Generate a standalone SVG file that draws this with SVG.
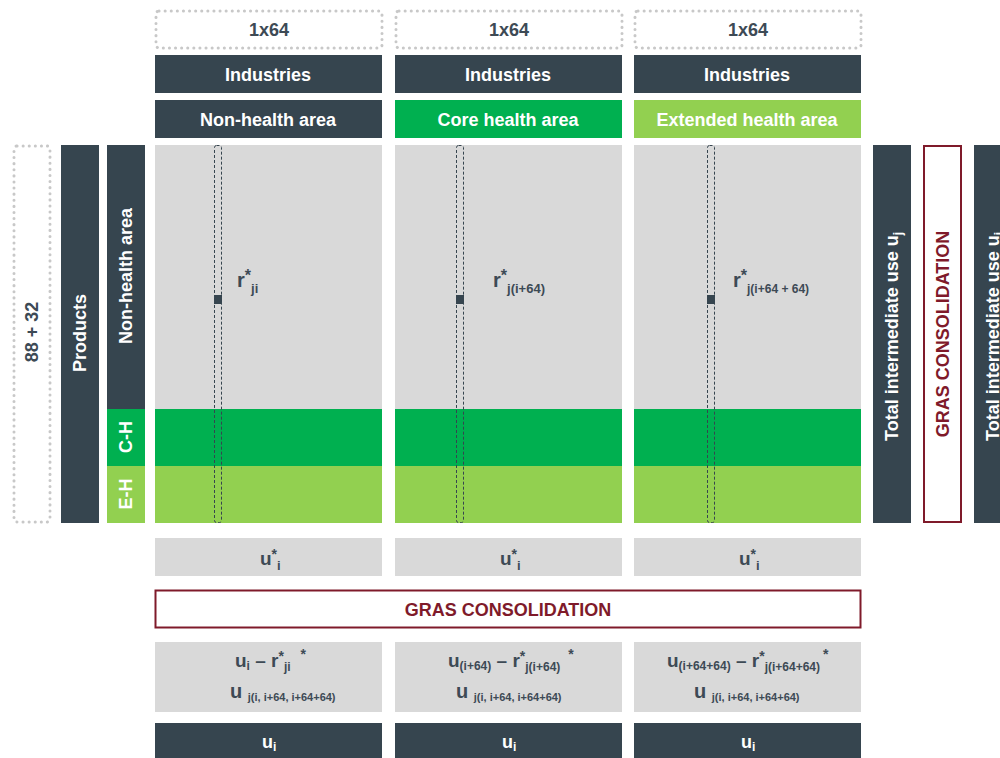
<svg xmlns="http://www.w3.org/2000/svg" width="1000" height="758" viewBox="0 0 1000 758">
<style>
text{font-family:"Liberation Sans",Arial,sans-serif;font-weight:bold}
.dk{fill:#36454f}
.gr{fill:#d9d9d9}
.g1{fill:#00b050}
.g2{fill:#92d050}
.dot{fill:none;stroke:#c8c8c8;stroke-width:3;stroke-dasharray:0.1 6;stroke-linecap:round}
.w{fill:#ffffff;font-size:18px;text-anchor:middle}
.t{fill:#3d4a55;font-size:18px;text-anchor:middle}
.red{fill:#fff;stroke:#7f1a2a;stroke-width:2}
.rt{fill:#7f1a2a;font-size:18px;text-anchor:middle}
.strip{fill:none;stroke:#36454f;stroke-width:1;stroke-dasharray:3 2}
.m{fill:#3d4a55}
</style>
<g id="top-labels">
<rect class="dot" x="156" y="11" width="226" height="37" rx="3"/>
<text class="t" x="269" y="36">1x64</text>
<rect class="dot" x="396" y="11" width="226" height="37" rx="3"/>
<text class="t" x="509" y="36">1x64</text>
<rect class="dot" x="635" y="11" width="226" height="37" rx="3"/>
<text class="t" x="748" y="36">1x64</text>
</g>
<g id="industries">
<rect class="dk" x="155" y="55" width="227" height="38"/>
<text class="w" x="268" y="81">Industries</text>
<rect class="dk" x="395" y="55" width="227" height="38"/>
<text class="w" x="508" y="81">Industries</text>
<rect class="dk" x="634" y="55" width="227" height="38"/>
<text class="w" x="747" y="81">Industries</text>
</g>
<g id="area-headers">
<rect class="dk" x="155" y="100" width="227" height="38"/>
<text class="w" x="268" y="126">Non-health area</text>
<rect class="g1" x="395" y="100" width="227" height="38"/>
<text class="w" x="508" y="126">Core health area</text>
<rect class="g2" x="634" y="100" width="227" height="38"/>
<text class="w" x="747" y="126">Extended health area</text>
</g>
<g id="left-labels">
<rect class="dot" x="14" y="146" width="36" height="376" rx="3"/>
<text class="t" transform="translate(38,332) rotate(-90)">88 + 32</text>
<rect class="dk" x="61" y="145" width="38" height="378"/>
<text class="w" transform="translate(86,333) rotate(-90)">Products</text>
<rect class="dk" x="107" y="145" width="38" height="264"/>
<text class="w" transform="translate(132,276) rotate(-90)">Non-health area</text>
<rect class="g1" x="107" y="409" width="38" height="57"/>
<text class="w" transform="translate(132,437) rotate(-90)">C-H</text>
<rect class="g2" x="107" y="466" width="38" height="57"/>
<text class="w" transform="translate(132,494) rotate(-90)">E-H</text>
</g>
<g id="matrix-non-health">
<rect class="gr" x="155" y="145" width="227" height="264"/>
<rect class="g1" x="155" y="409" width="227" height="57"/>
<rect class="g2" x="155" y="466" width="227" height="57"/>
<rect class="strip" x="214.5" y="145.5" width="7" height="377" rx="2"/>
<rect class="dk" x="214" y="295" width="8" height="9"/>
<text class="m" x="237" y="287" font-size="20">r<tspan font-size="16" dy="-6">*</tspan><tspan font-size="13" dy="12">ji</tspan></text>
</g>
<g id="matrix-core-health">
<rect class="gr" x="395" y="145" width="227" height="264"/>
<rect class="g1" x="395" y="409" width="227" height="57"/>
<rect class="g2" x="395" y="466" width="227" height="57"/>
<rect class="strip" x="456.5" y="145.5" width="7" height="377" rx="2"/>
<rect class="dk" x="456" y="295" width="8" height="9"/>
<text class="m" x="493" y="287" font-size="20">r<tspan font-size="16" dy="-6">*</tspan><tspan font-size="13" dy="12">j(i+64)</tspan></text>
</g>
<g id="matrix-extended-health">
<rect class="gr" x="634" y="145" width="227" height="264"/>
<rect class="g1" x="634" y="409" width="227" height="57"/>
<rect class="g2" x="634" y="466" width="227" height="57"/>
<rect class="strip" x="707.5" y="145.5" width="7" height="377" rx="2"/>
<rect class="dk" x="707" y="295" width="8" height="9"/>
<text class="m" x="733" y="287" font-size="20">r<tspan font-size="16" dy="-6">*</tspan><tspan font-size="12" dy="12">j(i+64 + 64)</tspan></text>
</g>
<g id="right-labels">
<rect class="dk" x="873" y="145" width="38" height="378"/>
<text class="w" style="text-anchor:start" transform="translate(898,441) rotate(-90)">Total intermediate use  u<tspan font-size="12" dy="4">j</tspan></text>
<rect class="red" x="924" y="146" width="37" height="376"/>
<text class="rt" transform="translate(949,334) rotate(-90)">GRAS CONSOLIDATION</text>
<rect class="dk" x="974" y="145" width="38" height="378"/>
<text class="w" style="text-anchor:start" transform="translate(999,441) rotate(-90)">Total intermediate use  u<tspan font-size="12" dy="4">i</tspan></text>
</g>
<g id="u-star">
<rect class="gr" x="155" y="538" width="227" height="38"/>
<text class="m" x="260" y="565" font-size="19">u<tspan font-size="14" dy="-6">*</tspan><tspan font-size="13" dy="11">i</tspan></text>
<rect class="gr" x="395" y="538" width="227" height="38"/>
<text class="m" x="500" y="565" font-size="19">u<tspan font-size="14" dy="-6">*</tspan><tspan font-size="13" dy="11">i</tspan></text>
<rect class="gr" x="634" y="538" width="227" height="38"/>
<text class="m" x="739" y="565" font-size="19">u<tspan font-size="14" dy="-6">*</tspan><tspan font-size="13" dy="11">i</tspan></text>
</g>
<g id="gras-bottom">
<rect class="red" x="155.5" y="590.5" width="705" height="37"/>
<text class="rt" x="508" y="616">GRAS CONSOLIDATION</text>
</g>
<g id="formulas">
<rect class="gr" x="155" y="642" width="227" height="70"/>
<text class="m" x="235" y="667" font-size="19">u<tspan font-size="12" dy="3">i</tspan><tspan dy="-3"> – r</tspan><tspan font-size="14" dy="-6">*</tspan><tspan font-size="12" dy="10">ji</tspan><tspan font-size="14" dy="-12" dx="10">*</tspan></text>
<text class="m" x="230" y="698" font-size="20">u <tspan font-size="11" dy="3">j(i, i+64, i+64+64)</tspan></text>
<rect class="gr" x="395" y="642" width="227" height="70"/>
<text class="m" x="448" y="667" font-size="19">u<tspan font-size="12" dy="3">(i+64)</tspan><tspan dy="-3"> – r</tspan><tspan font-size="14" dy="-6">*</tspan><tspan font-size="12" dy="10">j(i+64)</tspan><tspan font-size="14" dy="-12" dx="8">*</tspan></text>
<text class="m" x="456" y="698" font-size="20">u <tspan font-size="11" dy="3">j(i, i+64, i+64+64)</tspan></text>
<rect class="gr" x="634" y="642" width="227" height="70"/>
<text class="m" x="667" y="667" font-size="19">u<tspan font-size="12" dy="3">(i+64+64)</tspan><tspan dy="-3"> – r</tspan><tspan font-size="14" dy="-6">*</tspan><tspan font-size="12" dy="10">j(i+64+64)</tspan><tspan font-size="14" dy="-12" dx="3">*</tspan></text>
<text class="m" x="694" y="698" font-size="20">u <tspan font-size="11" dy="3">j(i, i+64, i+64+64)</tspan></text>
</g>
<g id="u-i">
<rect class="dk" x="155" y="723" width="227" height="35"/>
<text fill="#fff" x="262" y="748" font-size="18">u<tspan font-size="12" dy="3">i</tspan></text>
<rect class="dk" x="395" y="723" width="227" height="35"/>
<text fill="#fff" x="502" y="748" font-size="18">u<tspan font-size="12" dy="3">i</tspan></text>
<rect class="dk" x="634" y="723" width="227" height="35"/>
<text fill="#fff" x="741" y="748" font-size="18">u<tspan font-size="12" dy="3">i</tspan></text>
</g>
</svg>
